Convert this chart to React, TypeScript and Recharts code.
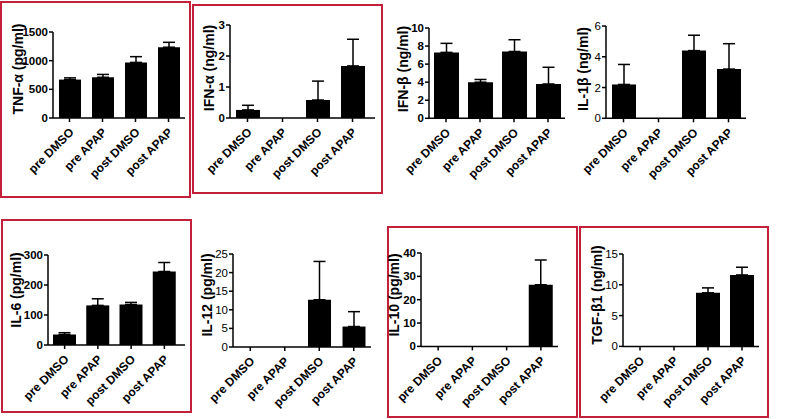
import React from "react";
import { BarChart, Bar, XAxis, YAxis, ErrorBar } from "recharts";

const categories = ["pre DMSO", "pre APAP", "post DMSO", "post APAP"];

// means and upper error (SEM)
const tnfMean = [670, 710, 970, 1235];
const tnfSem = [30, 50, 100, 85];
const ifnaMean = [0.26, 0, 0.58, 1.68];
const ifnaSem = [0.15, 0, 0.61, 0.86];
const ifnbMean = [7.3, 4.0, 7.4, 3.8];
const ifnbSem = [1.0, 0.3, 1.3, 1.85];
const il1bMean = [2.2, 0, 4.4, 3.2];
const il1bSem = [1.3, 0, 1.0, 1.65];
const il6Mean = [35, 132, 135, 245];
const il6Sem = [6, 22, 7, 30];
const il12Mean = [0, 0, 12.7, 5.5];
const il12Sem = [0, 0, 10.3, 4.0];
const il10Mean = [0, 0, 0, 26.4];
const il10Sem = [0, 0, 0, 10.6];
const tgfMean = [0, 0, 8.7, 11.6];
const tgfSem = [0, 0, 0.8, 1.25];

const tnfTicks = [0, 500, 1000, 1500];
const ifnaTicks = [0, 1, 2, 3];
const ifnbTicks = [0, 2, 4, 6, 8, 10];
const il1bTicks = [0, 2, 4, 6];
const il6Ticks = [0, 100, 200, 300];
const il12Ticks = [0, 5, 10, 15, 20, 25];
const il10Ticks = [0, 10, 20, 30, 40];
const tgfTicks = [0, 5, 10, 15];

const FONT = "'Liberation Sans', Arial, sans-serif";
const YW = 40;
const MT = 10;
const MR = 4;
const XH = 70;

const XTick = (props: any) => {
  const { x, y, payload } = props;
  const tx = x + 5;
  const ty = y + 9;
  return (
    <text
      x={tx}
      y={ty}
      textAnchor="end"
      transform={`rotate(-45, ${tx}, ${ty})`}
      fontSize={12}
      fontWeight="bold"
      fontFamily={FONT}
      fill="#000"
    >
      {payload.value}
    </text>
  );
};

interface PanelCfg {
  axisX: number;
  topY: number;
  zeroY: number;
  plotW: number;
  padR: number;
  barW: number;
  titleX: number;
  titleY: number;
  tickBold: boolean;
}

function Panel({
  cfg,
  means,
  sems,
  ticks,
  title,
}: {
  cfg: PanelCfg;
  means: number[];
  sems: number[];
  ticks: number[];
  title: string;
}) {
  const data = categories.map((c, i) => ({ name: c, mean: means[i], err: [0, sems[i]] }));
  const plotH = cfg.zeroY - cfg.topY;
  const width = YW + cfg.plotW + cfg.padR + MR;
  const height = MT + plotH + XH;
  return (
    <>
      <div style={{ position: "absolute", left: cfg.axisX - YW, top: cfg.topY - MT }}>
        <BarChart
          width={width}
          height={height}
          data={data}
          margin={{ top: MT, right: MR, left: 0, bottom: 0 }}
          barSize={cfg.barW}
        >
          <XAxis
            dataKey="name"
            height={XH}
            interval={0}
            tick={<XTick />}
            tickSize={4}
            tickLine={{ stroke: "#000", strokeWidth: 1.5 }}
            axisLine={{ stroke: "#000", strokeWidth: 1.5 }}
            padding={{ left: 0, right: cfg.padR }}
          />
          <YAxis
            width={YW}
            domain={[0, ticks[ticks.length - 1]]}
            ticks={ticks}
            interval={0}
            tickSize={4}
            tickMargin={1}
            tick={{
              fontSize: 11.5,
              fontWeight: cfg.tickBold ? "bold" : "normal",
              fill: "#000",
              fontFamily: FONT,
            }}
            tickLine={{ stroke: "#000", strokeWidth: 1.5 }}
            axisLine={{ stroke: "#000", strokeWidth: 1.5 }}
          />
          <Bar dataKey="mean" fill="#000" isAnimationActive={false}>
            <ErrorBar dataKey="err" width={6} stroke="#000" strokeWidth={1.5} />
          </Bar>
        </BarChart>
      </div>
      <div
        style={{
          position: "absolute",
          left: cfg.titleX,
          top: cfg.titleY,
          transform: "translate(-50%, -50%) rotate(-90deg)",
          whiteSpace: "nowrap",
          fontSize: 14,
          fontWeight: "bold",
          fontFamily: FONT,
          lineHeight: 1,
          color: "#000",
        }}
      >
        {title}
      </div>
    </>
  );
}

const frame = (left: number, top: number, width: number, height: number) => (
  <div
    style={{
      position: "absolute",
      left,
      top,
      width,
      height,
      border: "2px solid #c3203c",
      boxSizing: "border-box",
    }}
  />
);

export default function App() {
  return (
    <div
      style={{
        position: "absolute",
        left: 0,
        top: 0,
        width: 809,
        height: 419,
        background: "#fff",
        overflow: "hidden",
      }}
    >
      {frame(0, 1, 191, 197)}
      {frame(192, 4, 191, 190)}
      {frame(1, 219, 191, 194)}
      {frame(387, 226, 191, 192)}
      {frame(579, 226, 190, 192)}

      <Panel
        cfg={{ axisX: 53, topY: 32, zeroY: 118, plotW: 132, padR: 0, barW: 22, titleX: 18, titleY: 69, tickBold: true }}
        means={tnfMean}
        sems={tnfSem}
        ticks={tnfTicks}
        title="TNF-α (pg/ml)"
      />
      <Panel
        cfg={{ axisX: 229.5, topY: 25, zeroY: 118, plotW: 140, padR: 5, barW: 24, titleX: 209, titleY: 68, tickBold: true }}
        means={ifnaMean}
        sems={ifnaSem}
        ticks={ifnaTicks}
        title="IFN-α (ng/ml)"
      />
      <Panel
        cfg={{ axisX: 429, topY: 27.7, zeroY: 118, plotW: 136, padR: 0, barW: 25, titleX: 403, titleY: 69, tickBold: true }}
        means={ifnbMean}
        sems={ifnbSem}
        ticks={ifnbTicks}
        title="IFN-β (ng/ml)"
      />
      <Panel
        cfg={{ axisX: 605.5, topY: 25.7, zeroY: 118, plotW: 140, padR: 0, barW: 24, titleX: 583, titleY: 69, tickBold: false }}
        means={il1bMean}
        sems={il1bSem}
        ticks={il1bTicks}
        title="IL-1β (ng/ml)"
      />
      <Panel
        cfg={{ axisX: 48, topY: 255, zeroY: 345, plotW: 133, padR: 4, barW: 23, titleX: 16, titleY: 290, tickBold: true }}
        means={il6Mean}
        sems={il6Sem}
        ticks={il6Ticks}
        title="IL-6 (pg/ml)"
      />
      <Panel
        cfg={{ axisX: 233, topY: 254.3, zeroY: 347.3, plotW: 138, padR: 0, barW: 23, titleX: 207, titleY: 295, tickBold: false }}
        means={il12Mean}
        sems={il12Sem}
        ticks={il12Ticks}
        title="IL-12 (pg/ml)"
      />
      <Panel
        cfg={{ axisX: 421, topY: 253.3, zeroY: 346.7, plotW: 137, padR: 0, barW: 24, titleX: 394, titleY: 295, tickBold: true }}
        means={il10Mean}
        sems={il10Sem}
        ticks={il10Ticks}
        title="IL-10 (pg/ml)"
      />
      <Panel
        cfg={{ axisX: 623, topY: 254.3, zeroY: 346.7, plotW: 136, padR: 0, barW: 24, titleX: 597, titleY: 295, tickBold: false }}
        means={tgfMean}
        sems={tgfSem}
        ticks={tgfTicks}
        title="TGF-β1 (ng/ml)"
      />
    </div>
  );
}
